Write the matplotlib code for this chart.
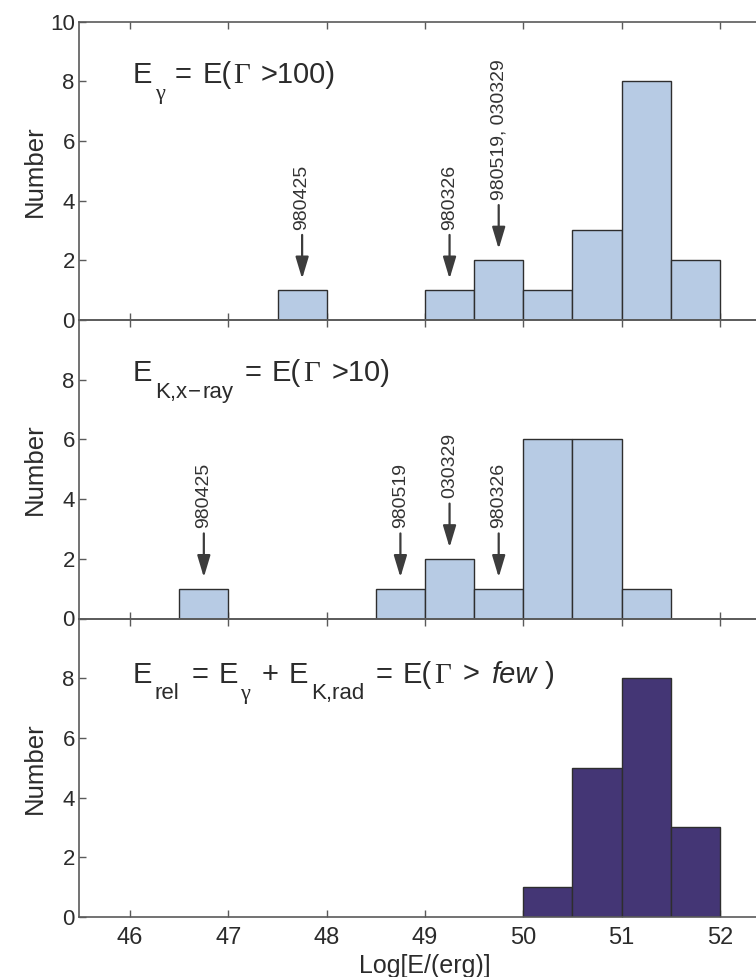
import numpy as np
import matplotlib
matplotlib.use("Agg")
import matplotlib.pyplot as plt

plt.rcParams["font.family"] = ["Liberation Sans", "DejaVu Sans"]

# Histogram bins: log10 of energy in erg
bin_edges = [46.0, 46.5, 47.0, 47.5, 48.0, 48.5, 49.0, 49.5, 50.0, 50.5, 51.0, 51.5, 52.0]

counts_gamma = [0, 0, 0, 1, 0, 0, 1, 2, 1, 3, 8, 2]
counts_xray = [0, 1, 0, 0, 0, 1, 2, 1, 6, 6, 1, 0]
counts_rel = [0, 0, 0, 0, 0, 0, 0, 0, 1, 5, 8, 3]

# Individual bursts flagged with arrows
gamma_burst_x = [47.75, 49.25, 49.75]
gamma_burst_labels = ["980425", "980326", "980519, 030329"]
xray_burst_x = [46.75, 48.75, 49.25, 49.75]
xray_burst_labels = ["980425", "980519", "030329", "980326"]

x_ticks = [46, 47, 48, 49, 50, 51, 52]
x_label = "Log[E/(erg)]"
y_label = "Number"

LIGHT = "#b7cbe4"
DARK = "#443675"
EDGE = "#2e2e2e"
SPINE = "#5a5a5a"
ARROW = "#3c3c3c"
TEXT = "#2b2b2b"

fig = plt.figure(figsize=(7.56, 9.77), dpi=100)
fig.patch.set_facecolor("white")

W, H = 756.0, 977.0
left = 79 / W
width = (769 - 79) / W
panel_h = 298.5 / H
bottoms = [1 - 320 / H, 1 - 618.5 / H, 1 - 917 / H]

axes = [fig.add_axes([left, b, width, panel_h]) for b in bottoms]


def draw_hist(ax, counts, color):
    edges = np.array(bin_edges)
    c = np.array(counts)
    keep = c > 0
    ax.bar(edges[:-1][keep], c[keep], width=np.diff(edges)[keep], align="edge",
           color=color, edgecolor=EDGE, linewidth=1.0, zorder=2)


def mark_bursts(ax, xs, labels, counts):
    edges = np.array(bin_edges)
    for x, lab in zip(xs, labels):
        i = np.searchsorted(edges, x) - 1
        h = counts[i]
        ax.annotate("", xy=(x, h + 0.38), xytext=(x, h + 1.85),
                    arrowprops=dict(arrowstyle="-|>,head_length=1.1,head_width=0.33",
                                    color=ARROW, lw=1.6, shrinkA=0, shrinkB=0,
                                    mutation_scale=12),
                    zorder=3)
        ax.text(x, h + 2.03, lab, rotation=90, ha="center", va="bottom",
                fontsize=14, color="#333333", zorder=3)


def formula(ax, parts, x, y):
    """Chain text pieces along a common baseline; subscripts sit low."""
    prev = None
    for text, kind, gap in parts:
        size = 21
        style = "normal"
        family = ["Liberation Sans", "DejaVu Sans"]
        dy = 0
        if kind in ("sub", "subgreek"):
            size = 16
            dy = -12
        if kind in ("greek", "subgreek"):
            family = ["Liberation Serif", "DejaVu Serif"]
        if kind == "it":
            style = "italic"
        if prev is None:
            t = ax.annotate(text, xy=(x, y), xycoords="data", xytext=(0, dy),
                            textcoords="offset points", ha="left", va="baseline",
                            fontsize=size, fontstyle=style, family=family, color=TEXT)
        else:
            t = ax.annotate(text, xy=(1, y), xycoords=(prev, "data"), xytext=(gap, dy),
                            textcoords="offset points", ha="left", va="baseline",
                            fontsize=size, fontstyle=style, family=family, color=TEXT)
        prev = t


draw_hist(axes[0], counts_gamma, LIGHT)
draw_hist(axes[1], counts_xray, LIGHT)
draw_hist(axes[2], counts_rel, DARK)

mark_bursts(axes[0], gamma_burst_x, gamma_burst_labels, counts_gamma)
mark_bursts(axes[1], xray_burst_x, xray_burst_labels, counts_xray)

formula(axes[0], [("E", "main", 0), ("\u03b3", "subgreek", 1.5), ("=", "main", 7.5),
                  ("E(", "main", 7.5), ("\u0393", "greek", 1.5), (">100)", "main", 7.5)],
        46.03, 7.95)
formula(axes[1], [("E", "main", 0), ("K,x", "sub", 1.5), ("\u2212", "sub", 1),
                  ("ray", "sub", 1), ("=", "main", 8), ("E(", "main", 7.5),
                  ("\u0393", "greek", 1.5), (">10)", "main", 8)],
        46.03, 7.95)
formula(axes[2], [("E", "main", 0), ("rel", "sub", 1.5), ("=", "main", 8.5),
                  ("E", "main", 7.5), ("\u03b3", "subgreek", 1.5), ("+", "main", 8.5),
                  ("E", "main", 7.5), ("K,rad", "sub", 1.5), ("=", "main", 8.5),
                  ("E(", "main", 7.5), ("\u0393", "greek", 1.5), (">", "main", 8),
                  ("few", "it", 8.5), (")", "main", 6)],
        46.03, 7.85)

for k, ax in enumerate(axes):
    ax.set_xlim(45.48, 52.5)
    ax.set_ylim(0, 10)
    ax.set_xticks(x_ticks)
    ax.set_yticks([0, 2, 4, 6, 8, 10] if k == 0 else [0, 2, 4, 6, 8])
    ax.tick_params(axis="both", direction="in", length=5, width=1.0, color=SPINE,
                   labelcolor=TEXT)
    ax.tick_params(axis="x", top=True, bottom=True, labelsize=17, pad=7)
    ax.tick_params(axis="y", left=True, right=False, labelsize=16, pad=3)
    if k < 2:
        ax.tick_params(axis="x", labelbottom=False)
    for side in ("left", "top", "bottom", "right"):
        ax.spines[side].set_color(SPINE)
        ax.spines[side].set_linewidth(1.2)
    ax.set_ylabel(y_label, fontsize=18.5, color=TEXT)
    ax.yaxis.set_label_coords(-0.047, 0.5)
    ax.set_facecolor("none")

axes[2].set_xlabel(x_label, fontsize=18, color=TEXT)
axes[2].xaxis.set_label_coords((49 - 45.48) / (52.5 - 45.48), -0.123)

fig.savefig("out.png", dpi=100, facecolor="white")
